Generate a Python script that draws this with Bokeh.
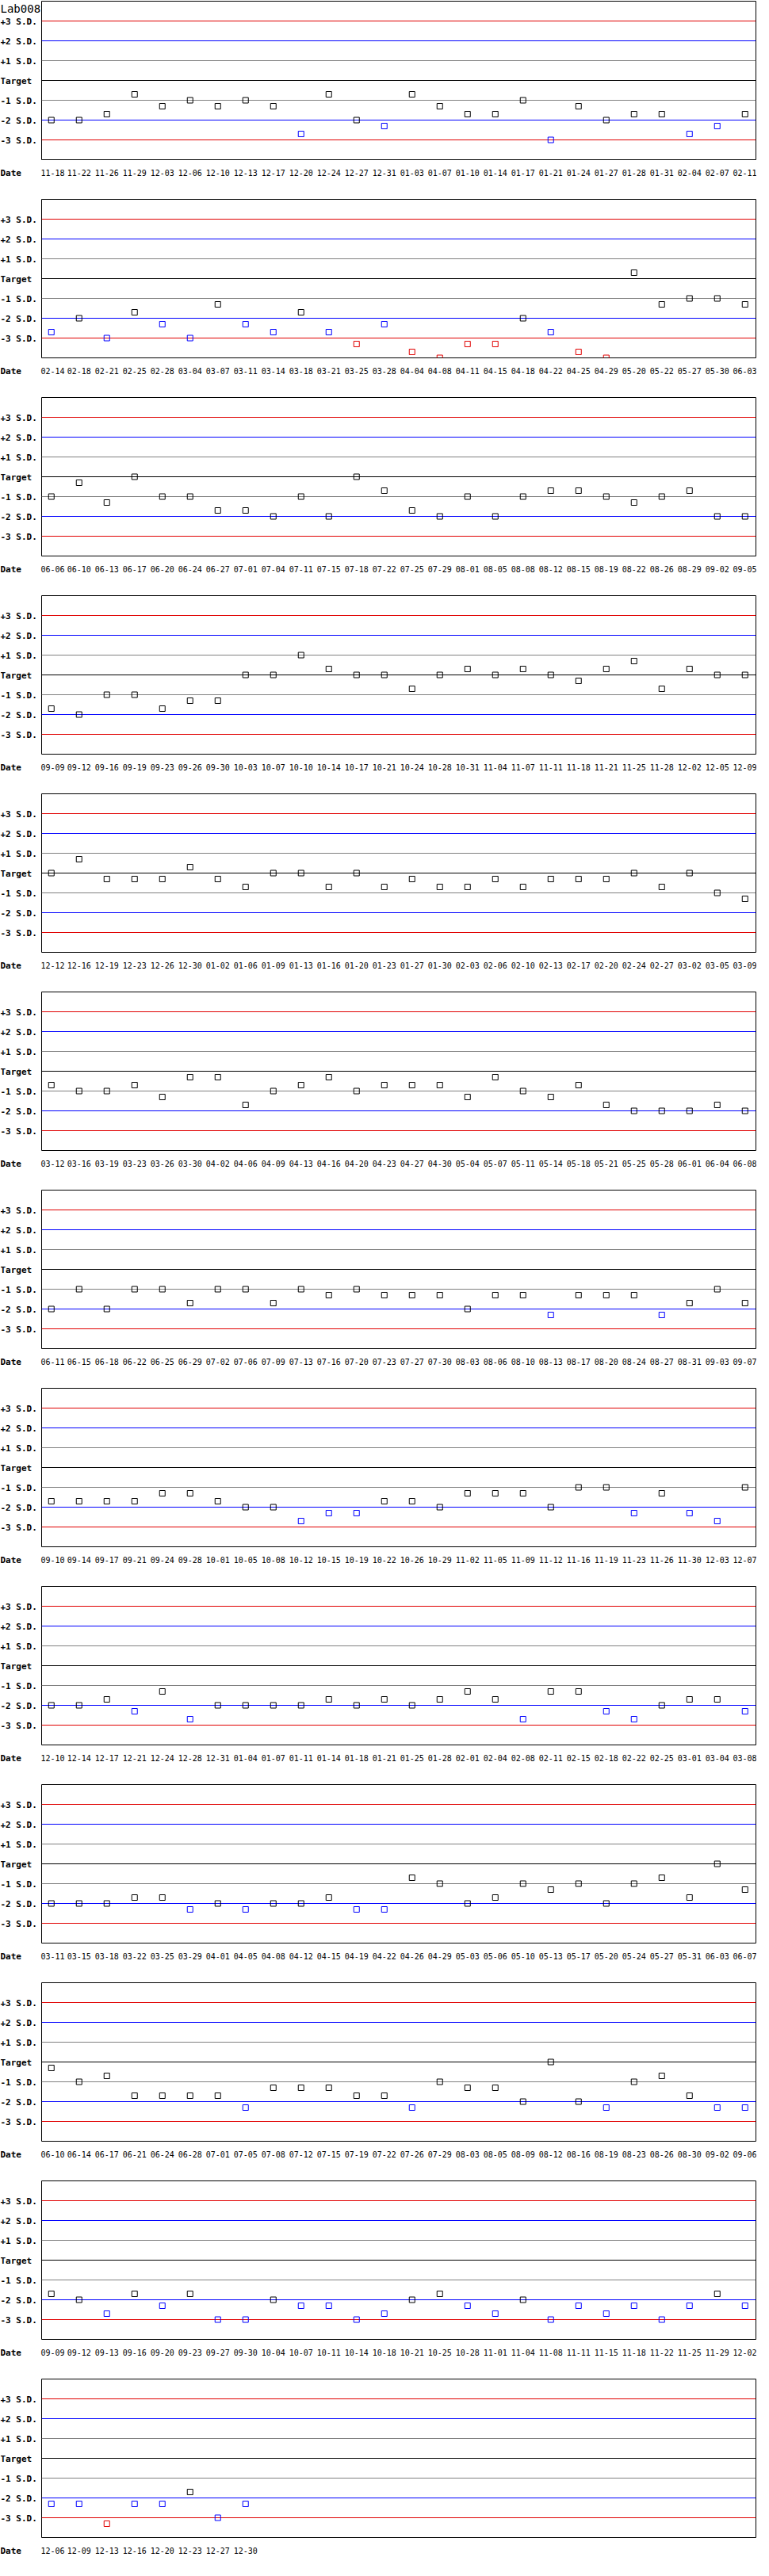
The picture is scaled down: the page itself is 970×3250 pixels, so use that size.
from bokeh.plotting import figure
from bokeh.models import Range1d, FixedTicker, Span, ColumnDataSource
from bokeh.layouts import column, row
from bokeh.embed import file_html
from bokeh.resources import INLINE
from bokeh.core.properties import value

# ---------------- data ----------------
LAB_NAME = "Lab008"
X_TITLE = "Date"
Y_TICKS = [3, 2, 1, 0, -1, -2, -3]
Y_TICK_LABELS = ["+3 S.D.", "+2 S.D.", "+1 S.D.", "Target", "-1 S.D.", "-2 S.D.", "-3 S.D."]
LEVEL_COLORS = ["#e00000", "#0000ff", "#808080", "#000000", "#808080", "#0000ff", "#e00000"]

P01_DATES = ["11-18", "11-22", "11-26", "11-29", "12-03", "12-06", "12-10", "12-13", "12-17", "12-20",
             "12-24", "12-27", "12-31", "01-03", "01-07", "01-10", "01-14", "01-17", "01-21", "01-24",
             "01-27", "01-28", "01-31", "02-04", "02-07", "02-11"]
P01_SD = [-2.0, -2.0, -1.7, -0.7, -1.3, -1.0, -1.3, -1.0, -1.3, -2.7,
          -0.7, -2.0, -2.3, -0.7, -1.3, -1.7, -1.7, -1.0, -3.0, -1.3,
          -2.0, -1.7, -1.7, -2.7, -2.3, -1.7]

P02_DATES = ["02-14", "02-18", "02-21", "02-25", "02-28", "03-04", "03-07", "03-11", "03-14", "03-18",
             "03-21", "03-25", "03-28", "04-04", "04-08", "04-11", "04-15", "04-18", "04-22", "04-25",
             "04-29", "05-20", "05-22", "05-27", "05-30", "06-03"]
P02_SD = [-2.7, -2.0, -3.0, -1.7, -2.3, -3.0, -1.3, -2.3, -2.7, -1.7,
          -2.7, -3.3, -2.3, -3.7, -4.0, -3.3, -3.3, -2.0, -2.7, -3.7,
          -4.0, 0.3, -1.3, -1.0, -1.0, -1.3]

P03_DATES = ["06-06", "06-10", "06-13", "06-17", "06-20", "06-24", "06-27", "07-01", "07-04", "07-11",
             "07-15", "07-18", "07-22", "07-25", "07-29", "08-01", "08-05", "08-08", "08-12", "08-15",
             "08-19", "08-22", "08-26", "08-29", "09-02", "09-05"]
P03_SD = [-1.0, -0.3, -1.3, 0.0, -1.0, -1.0, -1.7, -1.7, -2.0, -1.0,
          -2.0, 0.0, -0.7, -1.7, -2.0, -1.0, -2.0, -1.0, -0.7, -0.7,
          -1.0, -1.3, -1.0, -0.7, -2.0, -2.0]

P04_DATES = ["09-09", "09-12", "09-16", "09-19", "09-23", "09-26", "09-30", "10-03", "10-07", "10-10",
             "10-14", "10-17", "10-21", "10-24", "10-28", "10-31", "11-04", "11-07", "11-11", "11-18",
             "11-21", "11-25", "11-28", "12-02", "12-05", "12-09"]
P04_SD = [-1.7, -2.0, -1.0, -1.0, -1.7, -1.3, -1.3, 0.0, 0.0, 1.0,
          0.3, 0.0, 0.0, -0.7, 0.0, 0.3, 0.0, 0.3, 0.0, -0.3,
          0.3, 0.7, -0.7, 0.3, 0.0, 0.0]

P05_DATES = ["12-12", "12-16", "12-19", "12-23", "12-26", "12-30", "01-02", "01-06", "01-09", "01-13",
             "01-16", "01-20", "01-23", "01-27", "01-30", "02-03", "02-06", "02-10", "02-13", "02-17",
             "02-20", "02-24", "02-27", "03-02", "03-05", "03-09"]
P05_SD = [0.0, 0.7, -0.3, -0.3, -0.3, 0.3, -0.3, -0.7, 0.0, 0.0,
          -0.7, 0.0, -0.7, -0.3, -0.7, -0.7, -0.3, -0.7, -0.3, -0.3,
          -0.3, 0.0, -0.7, 0.0, -1.0, -1.3]

P06_DATES = ["03-12", "03-16", "03-19", "03-23", "03-26", "03-30", "04-02", "04-06", "04-09", "04-13",
             "04-16", "04-20", "04-23", "04-27", "04-30", "05-04", "05-07", "05-11", "05-14", "05-18",
             "05-21", "05-25", "05-28", "06-01", "06-04", "06-08"]
P06_SD = [-0.7, -1.0, -1.0, -0.7, -1.3, -0.3, -0.3, -1.7, -1.0, -0.7,
          -0.3, -1.0, -0.7, -0.7, -0.7, -1.3, -0.3, -1.0, -1.3, -0.7,
          -1.7, -2.0, -2.0, -2.0, -1.7, -2.0]

P07_DATES = ["06-11", "06-15", "06-18", "06-22", "06-25", "06-29", "07-02", "07-06", "07-09", "07-13",
             "07-16", "07-20", "07-23", "07-27", "07-30", "08-03", "08-06", "08-10", "08-13", "08-17",
             "08-20", "08-24", "08-27", "08-31", "09-03", "09-07"]
P07_SD = [-2.0, -1.0, -2.0, -1.0, -1.0, -1.7, -1.0, -1.0, -1.7, -1.0,
          -1.3, -1.0, -1.3, -1.3, -1.3, -2.0, -1.3, -1.3, -2.3, -1.3,
          -1.3, -1.3, -2.3, -1.7, -1.0, -1.7]

P08_DATES = ["09-10", "09-14", "09-17", "09-21", "09-24", "09-28", "10-01", "10-05", "10-08", "10-12",
             "10-15", "10-19", "10-22", "10-26", "10-29", "11-02", "11-05", "11-09", "11-12", "11-16",
             "11-19", "11-23", "11-26", "11-30", "12-03", "12-07"]
P08_SD = [-1.7, -1.7, -1.7, -1.7, -1.3, -1.3, -1.7, -2.0, -2.0, -2.7,
          -2.3, -2.3, -1.7, -1.7, -2.0, -1.3, -1.3, -1.3, -2.0, -1.0,
          -1.0, -2.3, -1.3, -2.3, -2.7, -1.0]

P09_DATES = ["12-10", "12-14", "12-17", "12-21", "12-24", "12-28", "12-31", "01-04", "01-07", "01-11",
             "01-14", "01-18", "01-21", "01-25", "01-28", "02-01", "02-04", "02-08", "02-11", "02-15",
             "02-18", "02-22", "02-25", "03-01", "03-04", "03-08"]
P09_SD = [-2.0, -2.0, -1.7, -2.3, -1.3, -2.7, -2.0, -2.0, -2.0, -2.0,
          -1.7, -2.0, -1.7, -2.0, -1.7, -1.3, -1.7, -2.7, -1.3, -1.3,
          -2.3, -2.7, -2.0, -1.7, -1.7, -2.3]

P10_DATES = ["03-11", "03-15", "03-18", "03-22", "03-25", "03-29", "04-01", "04-05", "04-08", "04-12",
             "04-15", "04-19", "04-22", "04-26", "04-29", "05-03", "05-06", "05-10", "05-13", "05-17",
             "05-20", "05-24", "05-27", "05-31", "06-03", "06-07"]
P10_SD = [-2.0, -2.0, -2.0, -1.7, -1.7, -2.3, -2.0, -2.3, -2.0, -2.0,
          -1.7, -2.3, -2.3, -0.7, -1.0, -2.0, -1.7, -1.0, -1.3, -1.0,
          -2.0, -1.0, -0.7, -1.7, 0.0, -1.3]

P11_DATES = ["06-10", "06-14", "06-17", "06-21", "06-24", "06-28", "07-01", "07-05", "07-08", "07-12",
             "07-15", "07-19", "07-22", "07-26", "07-29", "08-03", "08-05", "08-09", "08-12", "08-16",
             "08-19", "08-23", "08-26", "08-30", "09-02", "09-06"]
P11_SD = [-0.3, -1.0, -0.7, -1.7, -1.7, -1.7, -1.7, -2.3, -1.3, -1.3,
          -1.3, -1.7, -1.7, -2.3, -1.0, -1.3, -1.3, -2.0, 0.0, -2.0,
          -2.3, -1.0, -0.7, -1.7, -2.3, -2.3]

P12_DATES = ["09-09", "09-12", "09-13", "09-16", "09-20", "09-23", "09-27", "09-30", "10-04", "10-07",
             "10-11", "10-14", "10-18", "10-21", "10-25", "10-28", "11-01", "11-04", "11-08", "11-11",
             "11-15", "11-18", "11-22", "11-25", "11-29", "12-02"]
P12_SD = [-1.7, -2.0, -2.7, -1.7, -2.3, -1.7, -3.0, -3.0, -2.0, -2.3,
          -2.3, -3.0, -2.7, -2.0, -1.7, -2.3, -2.7, -2.0, -3.0, -2.3,
          -2.7, -2.3, -3.0, -2.3, -1.7, -2.3]

P13_DATES = ["12-06", "12-09", "12-13", "12-16", "12-20", "12-23", "12-27", "12-30"]
P13_SD = [-2.3, -2.3, -3.3, -2.3, -2.3, -1.7, -3.0, -2.3]

PANELS = [
    (P01_DATES, P01_SD), (P02_DATES, P02_SD), (P03_DATES, P03_SD), (P04_DATES, P04_SD),
    (P05_DATES, P05_SD), (P06_DATES, P06_SD), (P07_DATES, P07_SD), (P08_DATES, P08_SD),
    (P09_DATES, P09_SD), (P10_DATES, P10_SD), (P11_DATES, P11_SD), (P12_DATES, P12_SD),
    (P13_DATES, P13_SD),
]

# ---------------- layout / style ----------------
SIDE_W = 51                      # width of the label column left of each plot
FRAME_W, FRAME_H = 901, 200
BORDER_LEFT, BORDER_RIGHT, BORDER_TOP = 1, 1, 1
PANEL_H, PANEL_H_LAST = 250, 234
PX_PER_POINT = 35.0
X0 = -0.35
X1 = X0 + FRAME_W / PX_PER_POINT
Y0, Y1 = -4.0, 4.0
PX_PER_SD = FRAME_H / (Y1 - Y0)
MONO = "DejaVu Sans Mono"


def point_color(v):
    a = abs(v)
    if a > 3:
        return "#e00000"
    if a > 2:
        return "#0000ff"
    return "#000000"


def make_side(first, height):
    # label column sharing the vertical scale of the plot next to it
    top = Y1 + BORDER_TOP / PX_PER_SD
    bottom = top - height / PX_PER_SD
    s = figure(
        frame_width=SIDE_W, frame_height=height,
        min_border_left=0, min_border_right=0, min_border_top=0, min_border_bottom=0,
        x_range=Range1d(0, SIDE_W), y_range=Range1d(bottom, top),
        x_axis_location=None, y_axis_location=None,
        output_backend="svg", toolbar_location=None, tools="",
    )
    s.outline_line_color = None
    s.background_fill_color = "white"
    s.border_fill_color = "white"
    s.xgrid.visible = False
    s.ygrid.visible = False
    s.text(x=[0] * len(Y_TICKS), y=Y_TICKS, text=Y_TICK_LABELS,
           text_font=value(MONO), text_font_style="bold", text_font_size="11px",
           text_align="left", text_baseline="middle", text_color="black")
    if first:
        s.text(x=[0], y=[Y1 - 8 / PX_PER_SD], text=[LAB_NAME],
               text_font=value(MONO), text_font_size="14px",
               text_align="left", text_baseline="middle", text_color="black")
    s.text(x=[0], y=[Y0 - 15.5 / PX_PER_SD], text=[X_TITLE],
           text_font=value(MONO), text_font_style="bold", text_font_size="11px",
           text_align="left", text_baseline="middle", text_color="black")
    return s


def make_panel(dates, sds, height):
    p = figure(
        frame_width=FRAME_W, frame_height=FRAME_H,
        min_border_left=BORDER_LEFT, min_border_right=BORDER_RIGHT,
        min_border_top=BORDER_TOP,
        min_border_bottom=height - FRAME_H - BORDER_TOP,
        x_range=Range1d(X0, X1), y_range=Range1d(Y0, Y1),
        y_axis_location=None,
        output_backend="svg", toolbar_location=None, tools="",
    )
    p.background_fill_color = "white"
    p.border_fill_color = "white"
    p.outline_line_color = "black"
    p.outline_line_width = 1
    p.outline_line_alpha = 1.0
    p.xgrid.visible = False
    p.ygrid.visible = False

    for lev, col in zip(Y_TICKS, LEVEL_COLORS):
        p.add_layout(Span(location=lev, dimension="width", line_color=col,
                          line_width=1, level="underlay"))

    src = ColumnDataSource(dict(
        x=list(range(len(dates))),
        y=sds,
        color=[point_color(v) for v in sds],
    ))
    p.scatter(x="x", y="y", source=src, marker="square", size=7,
              line_color="color", fill_color=None, line_width=1)

    xa = p.xaxis[0]
    xa.ticker = FixedTicker(ticks=list(range(len(dates))))
    xa.major_label_overrides = {i: d for i, d in enumerate(dates)}
    xa.major_label_text_font = MONO
    xa.major_label_text_font_size = "10px"
    xa.major_label_text_color = "black"
    xa.axis_line_color = None
    xa.major_tick_line_color = None
    xa.minor_tick_line_color = None
    xa.major_tick_out = 0
    xa.major_tick_in = 0
    xa.major_label_standoff = 12
    return p


rows = []
n = len(PANELS)
for k, (d, s) in enumerate(PANELS):
    h = PANEL_H_LAST if k == n - 1 else PANEL_H
    rows.append(row(make_side(k == 0, h), make_panel(d, s, h), spacing=0))

layout = column(*rows, spacing=0)
open("out.html", "w").write(file_html(layout, INLINE))
